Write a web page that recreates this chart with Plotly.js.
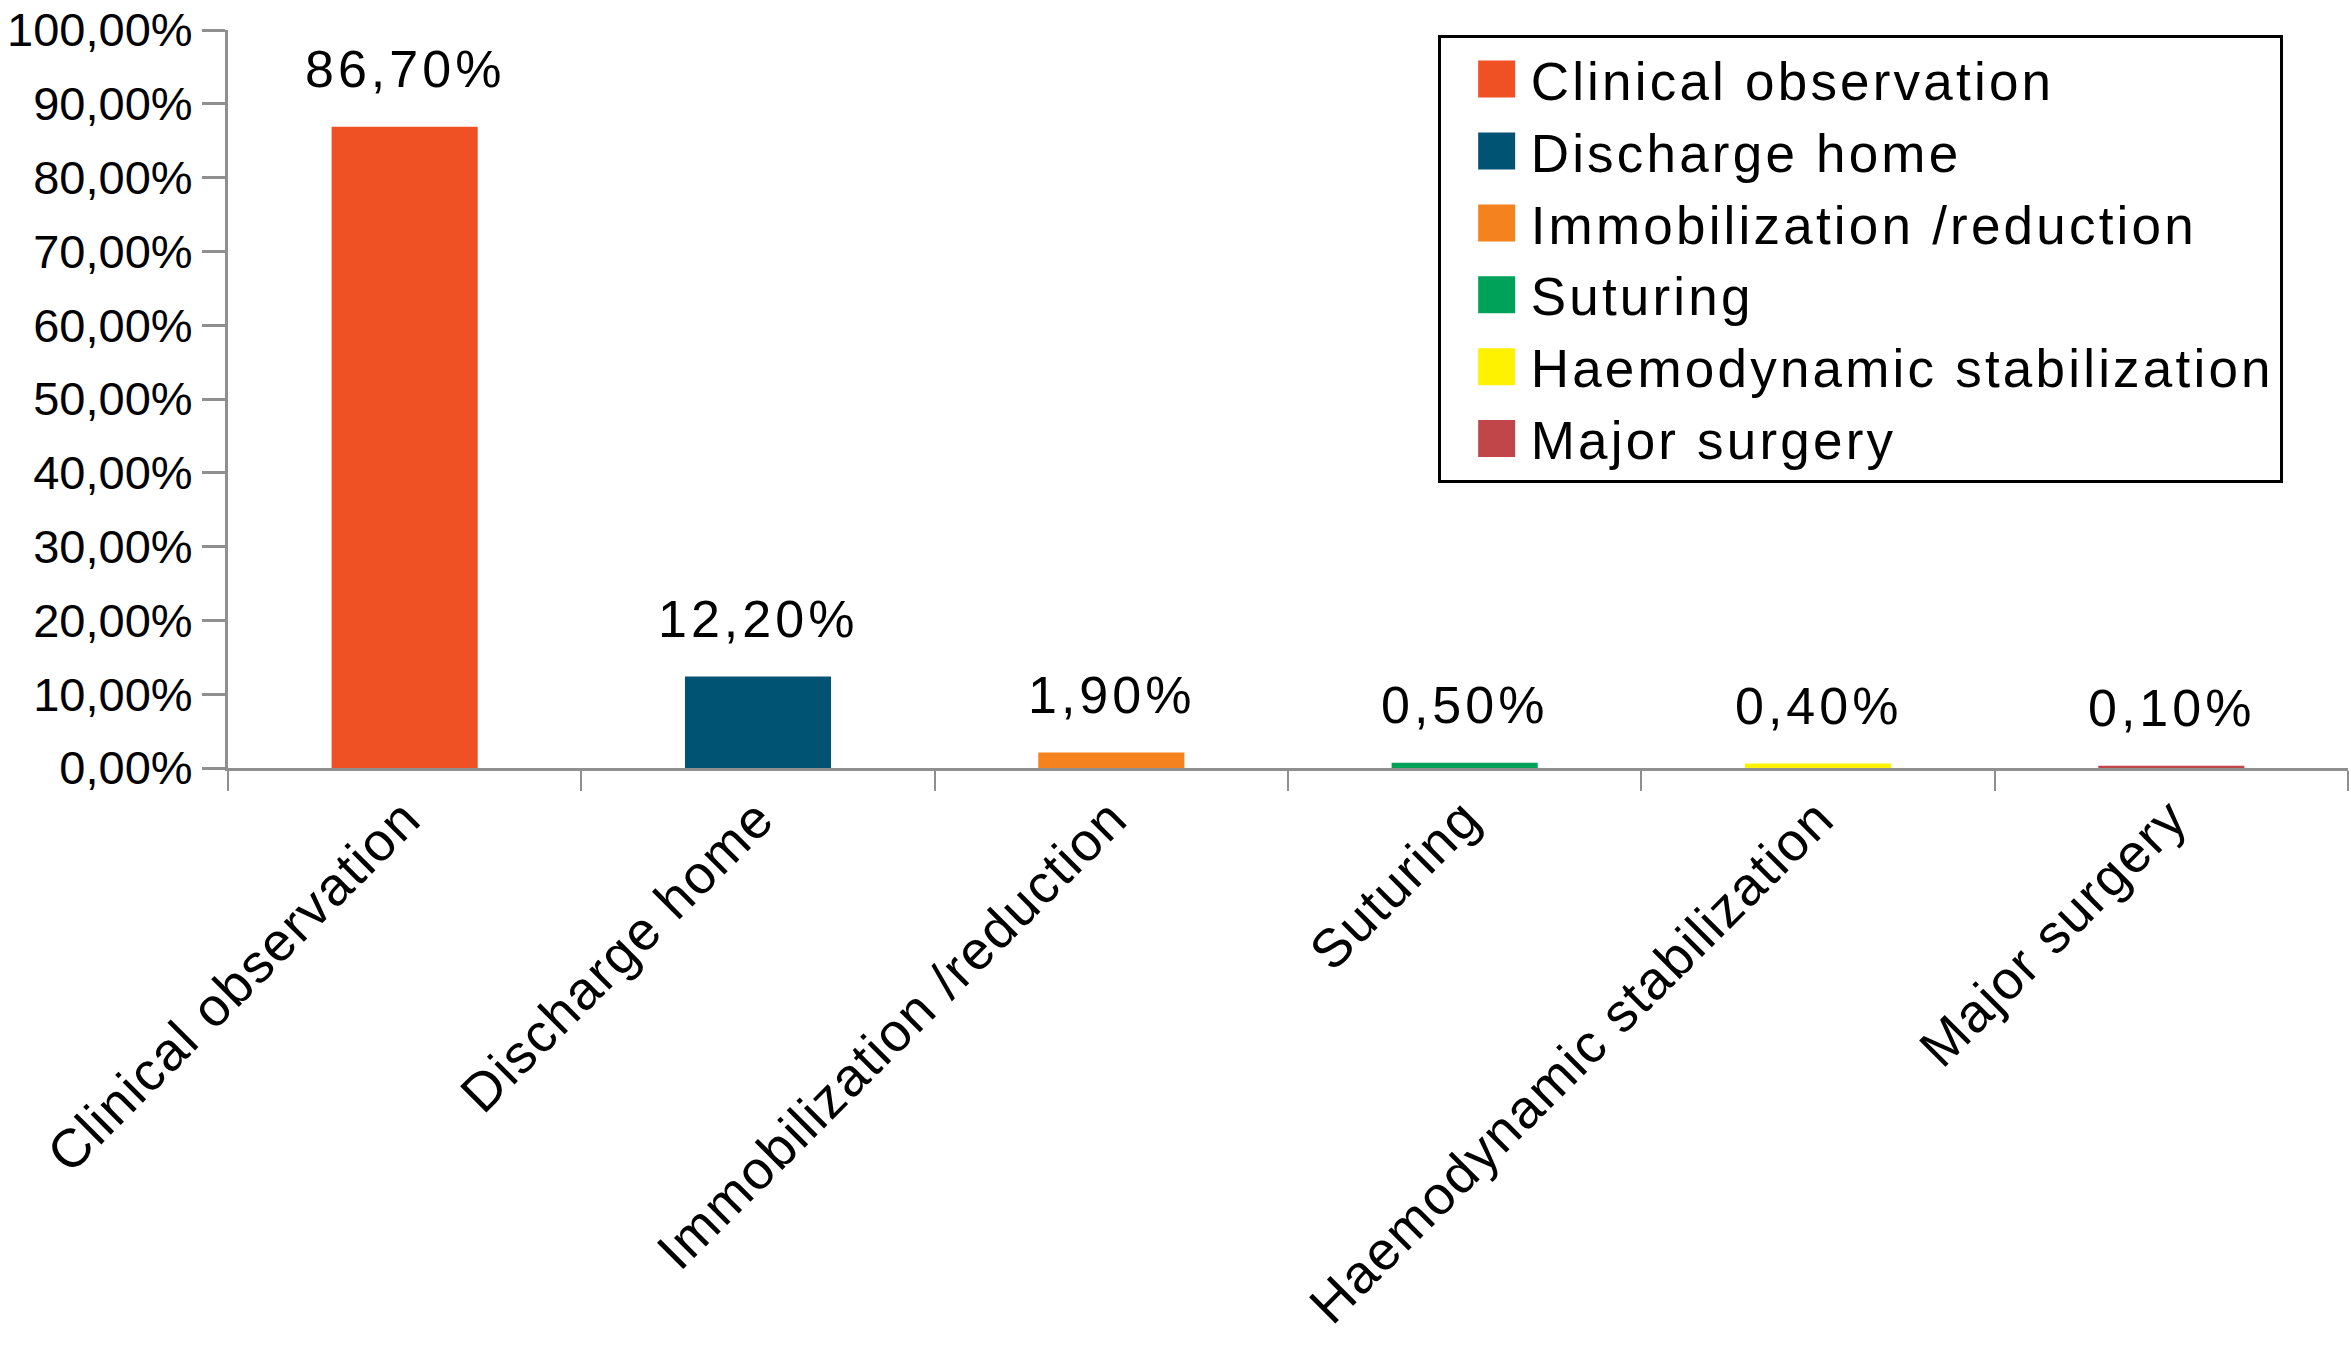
<!DOCTYPE html>
<html><head><meta charset="utf-8">
<script src="https://cdn.plot.ly/plotly-3.0.1.min.js"></script>
<style>
html,body{margin:0;padding:0;background:#fff}
#chart{width:2351px;height:1360px}
.legendtext{letter-spacing:3.2px}
.annotation-text{letter-spacing:4px}
.xtick text{letter-spacing:1.6px}
</style>
</head><body><div id="chart"></div>
<script>
const categories = ['Clinical observation','Discharge home','Immobilization /reduction','Suturing','Haemodynamic stabilization','Major surgery'];
const values = [86.7, 12.2, 1.9, 0.5, 0.4, 0.1];
const colors = ['#EF5124','#005373','#F4821F','#00A25A','#FFF200','#C0464A'];
const yTickValues = [0,10,20,30,40,50,60,70,80,90,100];
const yTickLabels = ['0,00%','10,00%','20,00%','30,00%','40,00%','50,00%','60,00%','70,00%','80,00%','90,00%','100,00%'];

const FONT = '"Liberation Sans", Arial, Helvetica, sans-serif';
const AXIS_GRAY = '#8f8f8f';

const traces = categories.map((c,i)=>({
  type:'bar', x:[c], y:[values[i]], name:c,
  marker:{color:colors[i], line:{color:colors[i], width:3}},
  hoverinfo:'skip'
}));

const annotations = categories.map((c,i)=>({
  x:c, y:values[i], xref:'x', yref:'y',
  text: values[i].toFixed(2).replace('.', ',') + '%',
  showarrow:false, yanchor:'bottom', yshift:28,
  font:{size:52, color:'#000', family:FONT}
}));

const layout = {
  width:2351, height:1360,
  margin:{l:228, r:3, t:30, b:592},
  paper_bgcolor:'#fff', plot_bgcolor:'#fff',
  font:{family:FONT, color:'#000'},
  barmode:'overlay', bargap:0.595,
  showlegend:true,
  legend:{x:0.5706, y:0.993, xanchor:'left', yanchor:'top',
    bordercolor:'#000', borderwidth:3, bgcolor:'#fff',
    font:{size:53, color:'#000', family:FONT},
    itemwidth:80, traceorder:'normal'},
  xaxis:{type:'category', categoryorder:'array', categoryarray:categories,
    tickson:'boundaries', ticks:'outside', ticklen:20, tickwidth:2, tickcolor:AXIS_GRAY,
    showline:true, linecolor:AXIS_GRAY, linewidth:3,
    tickangle:-45, tickfont:{size:54, color:'#000', family:FONT},
    ticklabelstandoff:-6,
    showgrid:false, zeroline:false, fixedrange:true},
  yaxis:{range:[0,100], tickmode:'array', tickvals:yTickValues, ticktext:yTickLabels,
    ticklabeloverflow:'allow',
    ticks:'outside', ticklen:23, tickwidth:3, tickcolor:AXIS_GRAY,
    showline:true, linecolor:AXIS_GRAY, linewidth:3,
    tickfont:{size:47, color:'#000', family:FONT},
    showgrid:false, zeroline:false, fixedrange:true},
  annotations:annotations
};

Plotly.newPlot('chart', traces, layout, {staticPlot:true, displayModeBar:false}).then(function(gd){
  gd.querySelectorAll('.legend .legendpoints path').forEach(function(p){
    p.setAttribute('d','M28,17H-6V-17H28Z');
  });
});
</script>
</body></html>
